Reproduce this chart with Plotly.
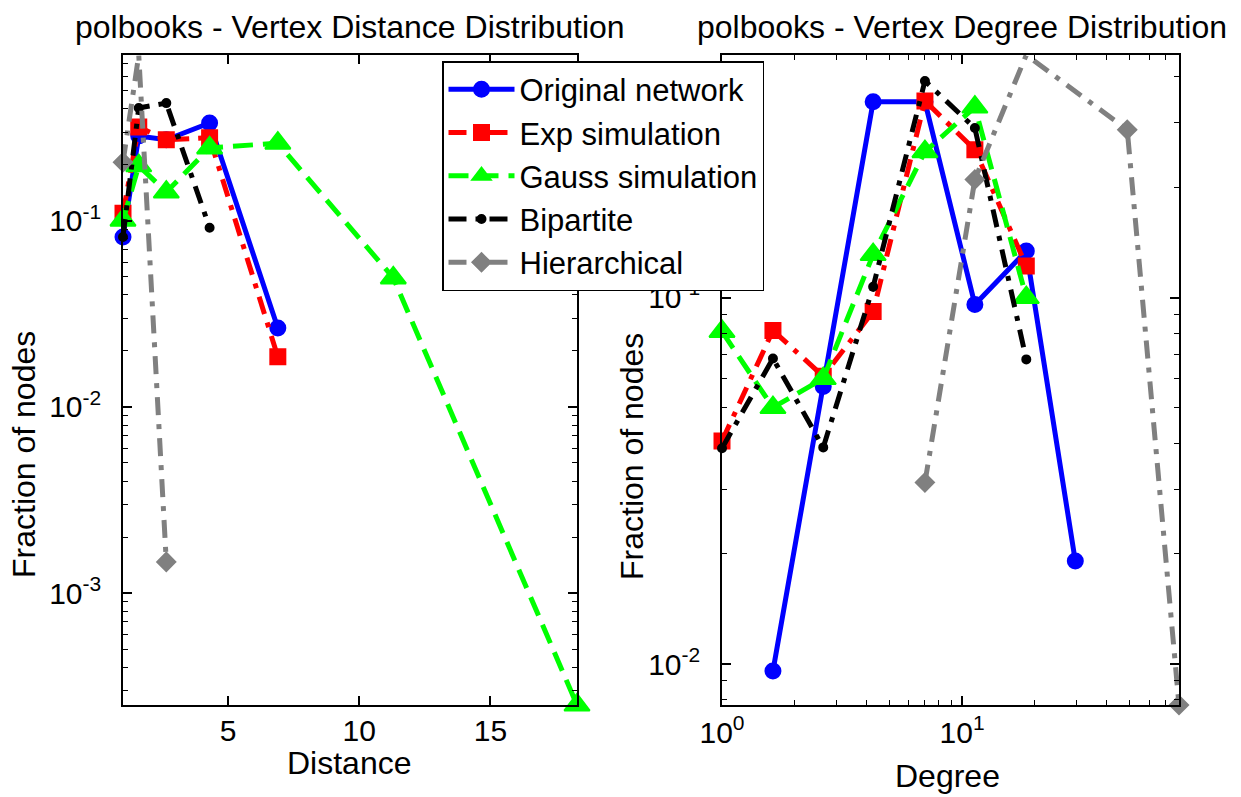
import numpy as np
import plotly.graph_objects as go

# ---- Vertex distance distribution (left panel) ----
dist_x = [1.0, 1.6, 2.65, 4.3, 6.9, 11.3, 18.3]
dist_original = [0.082, 0.286, 0.273, 0.336, 0.0266]
dist_exp = [0.110, 0.320, 0.273, 0.280, 0.0186]
dist_gauss = [0.101, 0.198, 0.143, 0.247, 0.262, 0.0494, 0.00025]
dist_bipartite = [0.082, 0.405, 0.430, 0.092]
dist_hier = [0.207, 0.78, 0.00147]

# ---- Vertex degree distribution (right panel) ----
deg_x = [1.0, 1.63, 2.64, 4.26, 7.0, 11.3, 18.5, 29.6, 48.7, 80.0]
deg_original = [0.00957, 0.0572, 0.342, 0.342, 0.0957, 0.134, 0.0191]
deg_exp = [0.0406, 0.0813, 0.061, 0.0916, 0.344, 0.253, 0.122]
deg_gauss = [0.0808, 0.0501, 0.0601, 0.131, 0.25, 0.331, 0.100]
deg_bipartite = [0.0388, 0.0682, 0.039, 0.107, 0.39, 0.29, 0.0678]
deg_hier = [0.0313, 0.21, 0.459, 0.287, 0.00773]

W, H = 1241, 797
FONT = "Liberation Sans, Arial, sans-serif"
LW = 5
DASHDOT = "18px,9px,5px,9px"
DASHED = "20px,10px"

styles = {
    "Original network": dict(color="#0000FF", dash="solid", symbol="circle", size=15),
    "Exp simulation": dict(color="#FF0000", dash=DASHDOT, symbol="square", size=15),
    "Gauss simulation": dict(color="#00FF00", dash=DASHED, symbol="triangle-up", size=22),
    "Bipartite": dict(color="#000000", dash=DASHDOT, symbol="circle", size=8),
    "Hierarchical": dict(color="#808080", dash=DASHDOT, symbol="diamond", size=14),
}


def trace(name, xs, ys, xa, ya, legend):
    st = styles[name]
    return go.Scatter(
        x=xs, y=ys, name=name, mode="lines+markers", cliponaxis=False,
        xaxis=xa, yaxis=ya, showlegend=legend, legendgroup=name,
        line=dict(color=st["color"], width=LW, dash=st["dash"]),
        marker=dict(symbol=st["symbol"], size=st["size"], color=st["color"],
                    line=dict(color=st["color"], width=2)),
    )


fig = go.Figure()

left = [
    ("Original network", dist_x[:5], dist_original),
    ("Exp simulation", dist_x[:5], dist_exp),
    ("Gauss simulation", dist_x[:7], dist_gauss),
    ("Bipartite", dist_x[:4], dist_bipartite),
    ("Hierarchical", dist_x[:3], dist_hier),
]
right = [
    ("Original network", deg_x[1:8], deg_original),
    ("Exp simulation", deg_x[0:7], deg_exp),
    ("Gauss simulation", deg_x[0:7], deg_gauss),
    ("Bipartite", deg_x[0:7], deg_bipartite),
    ("Hierarchical", [deg_x[i] for i in (4, 5, 6, 8, 9)], deg_hier),
]

for name, xs, ys in left:
    fig.add_trace(trace(name, xs, ys, "x", "y", True))
for name, xs, ys in right:
    fig.add_trace(trace(name, xs, ys, "x2", "y2", False))


def decade_ticks(lo, hi):
    """Major decade values and the 2..9 minor values between lo and hi (exponents)."""
    major, minor = [], []
    for e in range(int(np.floor(lo)), int(np.ceil(hi)) + 1):
        if lo - 1e-9 <= e <= hi + 1e-9:
            major.append(10.0 ** e)
        for m in range(2, 10):
            v = m * 10.0 ** e
            if lo <= np.log10(v) <= hi:
                minor.append(v)
    return major, minor


def log_axis(lo, hi):
    major, minor = decade_ticks(lo, hi)
    text = ["10<sup>%d</sup>" % round(np.log10(v)) for v in major]
    return dict(
        type="log", range=[lo, hi], tickmode="array", tickvals=major, ticktext=text,
        minor=dict(tickmode="array", tickvals=minor, ticks="inside", ticklen=5,
                   tickwidth=1.2, tickcolor="black", showgrid=False),
    )


axis_common = dict(
    showline=True, linecolor="black", linewidth=1.5, mirror="allticks",
    ticks="inside", ticklen=9, tickwidth=1.5, tickcolor="black",
    showgrid=False, zeroline=False, automargin=False,
    tickfont=dict(family=FONT, size=30, color="black"),
)

ydom = [1 - 705 / H, 1 - 55 / H]

fig.update_layout(
    width=W, height=H,
    margin=dict(l=0, r=0, t=0, b=0, autoexpand=False),
    paper_bgcolor="white", plot_bgcolor="white",
    font=dict(family=FONT, size=32, color="black"),
    xaxis=dict(domain=[123 / W, 577 / W], type="linear",
               range=[min(dist_x), max(dist_x)], dtick=5, tick0=0,
               anchor="y", ticklabelstandoff=-2, **axis_common),
    yaxis=dict(domain=ydom, anchor="x", ticklabelstandoff=14,
               **log_axis(np.log10(min(dist_gauss)), np.log10(max(dist_hier))),
               **axis_common),
    xaxis2=dict(domain=[722 / W, 1179 / W], anchor="y2",
                **log_axis(0, np.log10(max(deg_x))), **axis_common),
    yaxis2=dict(domain=ydom, anchor="x2", ticklabelstandoff=14,
                **log_axis(np.log10(min(deg_hier)), np.log10(max(deg_hier))),
                **axis_common),
    legend=dict(x=442 / W, y=1 - 61 / H, xanchor="left", yanchor="top",
                bgcolor="white", bordercolor="black", borderwidth=1.5,
                font=dict(family=FONT, size=31, color="black"),
                itemwidth=66, tracegroupgap=0),
)


def label(text, x, y, angle=0):
    fig.add_annotation(text=text, x=x / W, y=1 - y / H, xref="paper", yref="paper",
                       showarrow=False, textangle=angle, xanchor="center",
                       yanchor="middle", font=dict(family=FONT, size=32, color="black"))


label("polbooks - Vertex Distance Distribution", 350, 27)
label("polbooks - Vertex Degree Distribution", 962, 27)
label("Distance", 349, 763)
label("Degree", 948, 776)
label("Fraction of nodes", 24, 455, -90)
label("Fraction of nodes", 632, 457, -90)

fig.write_html("out.html")
